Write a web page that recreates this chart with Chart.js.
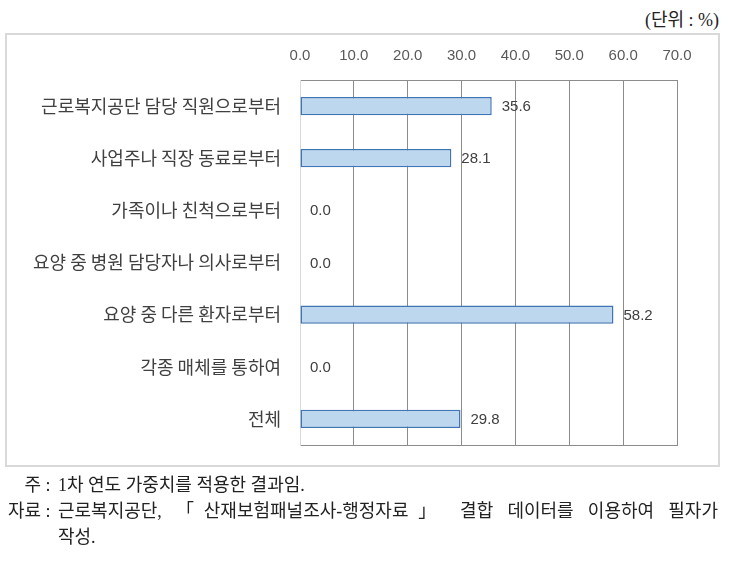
<!DOCTYPE html>
<html lang="ko">
<head>
<meta charset="utf-8">
<script src="https://cdn.jsdelivr.net/npm/chart.js@4.4.1/dist/chart.umd.min.js"></script>
<style>
  html, body { margin: 0; padding: 0; background: #fff; }
  body { width: 729px; height: 574px; position: relative; overflow: hidden; }
  .serif { font-family: "Liberation Serif", "DejaVu Serif", "Noto Sans CJK KR", serif; color: #222; font-size: 18px; }
  #unit { position: absolute; right: 10px; top: 5px; }
  #frame { position: absolute; left: 5px; top: 33px; width: 711px; height: 430px; border: 2px solid #d9d9d9; }
  #wrap { position: absolute; left: 0; top: 0; width: 729px; height: 574px; }
  .note { position: absolute; left: 5px; width: 713px; display: flex; line-height: 22px; }
  .note .lab { width: 50px; text-align: right; white-space: pre; }
  .note .txt { flex: 1; padding-left: 3px; }
  .just { text-align: justify; text-align-last: justify; }
</style>
</head>
<body>
<div id="unit" class="serif">(단위 : %)</div>
<div id="frame"></div>
<div id="wrap"><canvas id="chart" width="729" height="574"></canvas></div>
<div class="note serif" style="top:474px"><span class="lab">주 : </span><span class="txt">1차 연도 가중치를 적용한 결과임.</span></div>
<div class="note serif" style="top:500px"><span class="lab">자료 : </span><span class="txt just">근로복지공단, 「산재보험패널조사-행정자료」 결합 데이터를 이용하여 필자가</span></div>
<div class="note serif" style="top:526px"><span class="lab"> </span><span class="txt">작성.</span></div>
<script>
// Data
const categories = [
  '근로복지공단 담당 직원으로부터',
  '사업주나 직장 동료로부터',
  '가족이나 친척으로부터',
  '요양 중 병원 담당자나 의사로부터',
  '요양 중 다른 환자로부터',
  '각종 매체를 통하여',
  '전체'
];
const shares = [35.6, 28.1, 0.0, 0.0, 58.2, 0.0, 29.8];
const axisMin = 0;
const axisMax = 70;
const axisStep = 10;

const labelFont = "'Liberation Sans', 'Noto Sans CJK KR', sans-serif";
const lightLine = '#d9d9d9';
const gridLine = '#8c8c8c';

// value labels at the end of each bar
const valueLabels = {
  id: 'valueLabels',
  afterDatasetsDraw(chart) {
    const c = chart.ctx;
    const meta = chart.getDatasetMeta(0);
    c.save();
    c.font = '15px ' + labelFont;
    c.fillStyle = '#404040';
    c.textAlign = 'left';
    c.textBaseline = 'middle';
    meta.data.forEach((bar, i) => {
      c.fillText(shares[i].toFixed(1), bar.x + 10, bar.y + 1);
    });
    c.restore();
  }
};

const ctx = document.getElementById('chart').getContext('2d');
new Chart(ctx, {
  type: 'bar',
  data: {
    labels: categories,
    datasets: [{
      data: shares,
      backgroundColor: '#bdd7ee',
      borderColor: '#3f74b5',
      borderWidth: c => (c.raw === 0 ? 0 : 1.5),
      borderSkipped: false,
      barPercentage: 0.7,
      categoryPercentage: 0.5
    }]
  },
  options: {
    indexAxis: 'y',
    responsive: false,
    animation: false,
    events: [],
    layout: { padding: { left: 0, right: 52, top: 40, bottom: 129 } },
    plugins: { legend: { display: false }, tooltip: { enabled: false } },
    scales: {
      x: {
        position: 'top',
        min: axisMin,
        max: axisMax,
        ticks: {
          stepSize: axisStep,
          padding: 15,
          color: '#595959',
          font: { family: labelFont, size: 15 },
          callback: v => Number(v).toFixed(1)
        },
        grid: {
          drawTicks: false,
          lineWidth: 1,
          color: c => (c.index === 0 ? lightLine : gridLine)
        },
        border: { display: true, color: gridLine, width: 1 },
        afterFit: s => { s.height = 40; }
      },
      x2: {
        position: 'bottom',
        min: axisMin,
        max: axisMax,
        ticks: { display: false },
        grid: { display: false, drawTicks: false },
        border: { display: true, color: gridLine, width: 1 },
        afterFit: s => { s.height = 0; }
      },
      y: {
        ticks: {
          padding: 19,
          color: '#404040',
          font: { family: "'Noto Sans CJK KR', sans-serif", size: 18 }
        },
        grid: { display: false, drawTicks: false },
        border: { display: true, color: lightLine, width: 1 },
        afterFit: s => { s.width = 300; }
      }
    }
  },
  plugins: [valueLabels]
});
</script>
</body>
</html>
